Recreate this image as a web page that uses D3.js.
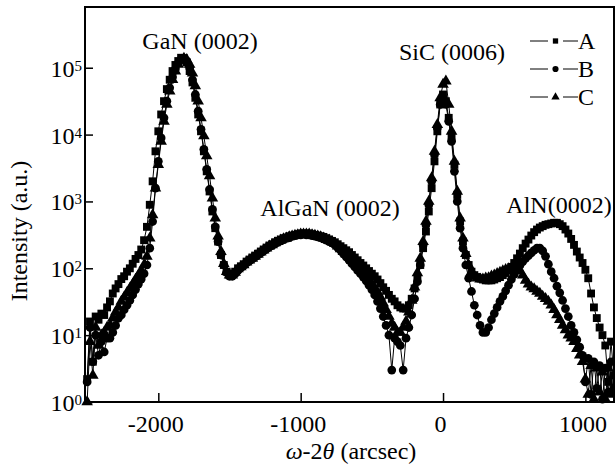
<!DOCTYPE html>
<html>
<head>
<meta charset="utf-8">
<script src="https://cdn.jsdelivr.net/npm/d3@7"></script>
</head>
<body style="margin:0">
<script>
// scan positions, omega-2theta (arcsec)
var angle = [
  -2500, -2480, -2460, -2440, -2420, -2400, -2380, -2360, -2340, -2320,
  -2300, -2280, -2260, -2240, -2220, -2200, -2180, -2160, -2140, -2120,
  -2100, -2080, -2060, -2040, -2020, -2000, -1980, -1960, -1940, -1920,
  -1900, -1880, -1860, -1840, -1820, -1800, -1780, -1760, -1740, -1720,
  -1700, -1680, -1660, -1640, -1620, -1600, -1580, -1560, -1540, -1520,
  -1500, -1480, -1460, -1440, -1420, -1400, -1380, -1360, -1340, -1320,
  -1300, -1280, -1260, -1240, -1220, -1200, -1180, -1160, -1140, -1120,
  -1100, -1080, -1060, -1040, -1020, -1000, -980, -960, -940, -920,
  -900, -880, -860, -840, -820, -800, -780, -760, -740, -720,
  -700, -680, -660, -640, -620, -600, -580, -560, -540, -520,
  -500, -480, -460, -440, -420, -400, -380, -360, -340, -320,
  -300, -280, -260, -240, -220, -200, -180, -160, -140, -120,
  -100, -80, -60, -40, -20, 0, 20, 40, 60, 80,
  100, 120, 140, 160, 180, 200, 220, 240, 260, 280,
  300, 320, 340, 360, 380, 400, 420, 440, 460, 480,
  500, 520, 540, 560, 580, 600, 620, 640, 660, 680,
  700, 720, 740, 760, 780, 800, 820, 840, 860, 880,
  900, 920, 940, 960, 980, 1000, 1020, 1040, 1060, 1080,
  1100, 1120, 1140, 1160, 1180, 1200
];

// intensity (a.u.) for the three samples
var seriesA = [
  2.2, 16, 4, 19, 17, 21, 20, 26, 32, 42,
  50, 58, 69, 76, 89, 100, 117, 138, 158, 191,
  263, 417, 891, 2000, 5620, 11200, 20000, 31600, 47900, 66100,
  89100, 110000, 126000, 141000, 138000, 120000, 89100, 60300, 35500, 20000,
  11200, 5620, 2820, 1410, 708, 398, 251, 158, 112, 89,
  79, 83, 89, 100, 107, 115, 126, 135, 145, 155,
  166, 178, 191, 204, 219, 229, 245, 257, 269, 282,
  288, 302, 309, 316, 324, 331, 331, 331, 331, 324,
  316, 309, 302, 295, 282, 269, 257, 245, 229, 214,
  200, 186, 174, 158, 145, 132, 120, 110, 100, 91,
  83, 76, 68, 60, 52, 46, 40, 35, 32, 28,
  26, 25, 25, 28, 35, 50, 71, 112, 200, 355,
  708, 1580, 3980, 11200, 28200, 39800, 31600, 17800, 8910, 3550,
  1260, 501, 251, 158, 112, 89, 79, 74, 71, 68,
  66, 66, 66, 68, 71, 74, 79, 85, 93, 105,
  120, 141, 166, 200, 234, 269, 309, 347, 380, 407,
  427, 447, 457, 468, 479, 479, 457, 427, 380, 331,
  275, 224, 178, 145, 120, 95, 71, 42, 26, 18,
  13, 10, 7, 2, 8, 2.5
];

var seriesB = [
  2, 13, 4, 10, 5, 8, 5.6, 9, 9, 11,
  14, 18, 20, 24, 28, 33, 40, 48, 58, 69,
  83, 112, 200, 501, 1580, 3980, 8910, 17800, 31600, 50100,
  72400, 95500, 117000, 132000, 138000, 126000, 100000, 66100, 39800, 22400,
  12000, 6030, 3020, 1510, 759, 417, 251, 158, 112, 87,
  76, 76, 83, 93, 102, 110, 120, 129, 138, 148,
  158, 170, 182, 195, 209, 219, 234, 245, 257, 269,
  282, 288, 302, 309, 316, 316, 324, 316, 316, 309,
  302, 295, 288, 275, 263, 251, 240, 224, 204, 186,
  166, 148, 132, 117, 105, 93, 83, 74, 65, 56,
  48, 40, 32, 25, 19, 14, 10, 3, 9, 8,
  7, 3, 9, 13, 20, 35, 63, 112, 224, 447,
  891, 2000, 5010, 12600, 28200, 35500, 28200, 15800, 7940, 2820,
  1000, 398, 200, 112, 71, 45, 28, 20, 14, 11,
  11, 13, 17, 21, 26, 32, 38, 46, 56, 68,
  81, 95, 110, 126, 141, 155, 170, 186, 200, 200,
  182, 151, 115, 89, 71, 54, 43, 33, 25, 19,
  14, 11, 8.5, 6.6, 5, 2, 4.5, 1.3, 4, 1.6,
  3.5, 1.1, 3.2, 1.4, 4, 1.6
];

var seriesC = [
  1, 8, 2.5, 13, 7, 10, 11, 13, 14, 18,
  22, 26, 32, 37, 43, 50, 58, 68, 79, 93,
  112, 151, 282, 631, 1580, 3550, 7940, 15800, 28200, 44700,
  66100, 89100, 112000, 129000, 138000, 132000, 112000, 83200, 53700, 31600,
  17800, 9550, 4790, 2400, 1120, 562, 302, 178, 117, 89,
  79, 79, 87, 98, 105, 112, 123, 132, 141, 151,
  162, 174, 186, 200, 214, 224, 240, 251, 263, 275,
  282, 295, 302, 309, 316, 324, 324, 324, 324, 316,
  309, 302, 295, 282, 269, 263, 251, 234, 214, 195,
  178, 162, 148, 132, 120, 107, 95, 85, 76, 68,
  59, 51, 44, 37, 30, 24, 19, 15, 13, 11,
  11, 13, 16, 22, 33, 52, 85, 141, 251, 501,
  1000, 2240, 5620, 14100, 35500, 56200, 63100, 28200, 11200, 3980,
  1410, 562, 282, 166, 112, 89, 76, 71, 69, 69,
  71, 72, 76, 79, 83, 87, 91, 95, 98, 100,
  100, 98, 91, 79, 66, 58, 52, 49, 45, 42,
  38, 35, 32, 28, 24, 20, 17, 14, 12, 10,
  9, 8, 6.3, 5, 4, 2.2, 1.3, 3.5, 1.1, 3.2,
  1.4, 2.8, 1.1, 3.2, 1.3, 2.5
];

var seriesNames = ["A", "B", "C"];
var xTicks = [-2000, -1000, 0, 1000];
var yExponents = [0, 1, 2, 3, 4, 5];

var chartWidth = 615;
var chartHeight = 470;
var plot = { left: 85, right: 614, top: 7, bottom: 402 };

var svg = d3.select("body")
  .append("svg")
  .attr("width", chartWidth)
  .attr("height", chartHeight);

var xScale = d3.scaleLinear().domain([-2515, 1201]).range([plot.left, plot.right]);
var yScale = d3.scaleLog().domain([1, 8.1e5]).range([plot.bottom, plot.top]);

var seriesList = [
  { label: seriesNames[0], values: seriesA, symbol: d3.symbolSquare, size: 62, legendSize: 28 },
  { label: seriesNames[1], values: seriesB, symbol: d3.symbolCircle, size: 60, legendSize: 30 },
  { label: seriesNames[2], values: seriesC, symbol: d3.symbolTriangle, size: 58, legendSize: 30 }
];

var curve = d3.line()
  .x(function(d, i) { return xScale(angle[i]); })
  .y(function(d) { return yScale(d); });

var dataLayer = svg.append("g");

seriesList.forEach(function(s) {
  var g = dataLayer.append("g");
  g.append("path")
    .attr("d", curve(s.values))
    .attr("fill", "none")
    .attr("stroke", "#000")
    .attr("stroke-width", 1);
  g.selectAll("path.mark")
    .data(s.values)
    .enter()
    .append("path")
    .attr("class", "mark")
    .attr("d", d3.symbol().type(s.symbol).size(s.size))
    .attr("transform", function(d, i) {
      return "translate(" + xScale(angle[i]) + "," + yScale(d) + ")";
    })
    .attr("fill", "#000");
});

// axes: ticks point inward
var xAxis = svg.append("g")
  .attr("transform", "translate(0," + plot.bottom + ")")
  .call(d3.axisBottom(xScale).tickValues(xTicks).tickSize(-9).tickFormat(function(d) { return String(d); }));
xAxis.select(".domain").remove();
xAxis.selectAll("line").attr("stroke", "#000").attr("stroke-width", 1.5);
xAxis.selectAll("text")
  .style("font-family", "Liberation Serif")
  .style("font-size", "24px")
  .attr("fill", "#000")
  .attr("y", 30)
  .attr("dy", 0)
  .attr("dx", -3);

var yAxis = svg.append("g")
  .attr("transform", "translate(" + plot.left + ",0)")
  .call(d3.axisLeft(yScale).tickValues(yExponents.map(function(e) { return Math.pow(10, e); })).tickSize(-8).tickFormat(""));
yAxis.select(".domain").remove();
yAxis.selectAll("line").attr("stroke", "#000").attr("stroke-width", 1.5);

yExponents.forEach(function(e) {
  var t = svg.append("text")
    .attr("x", 82)
    .attr("y", yScale(Math.pow(10, e)) + 9)
    .attr("text-anchor", "end")
    .style("font-family", "Liberation Serif")
    .style("font-size", "24px");
  t.append("tspan").text("10");
  t.append("tspan")
    .attr("dy", -6)
    .style("font-size", "15px")
    .text(String(e));
});

svg.append("rect")
  .attr("x", plot.left)
  .attr("y", plot.top)
  .attr("width", plot.right - plot.left)
  .attr("height", plot.bottom - plot.top)
  .attr("fill", "none")
  .attr("stroke", "#000")
  .attr("stroke-width", 2);

// peak annotations
var notes = [
  { text: "GaN (0002)", px: 200, py: 49 },
  { text: "SiC (0006)", px: 452, py: 60 },
  { text: "AlGaN (0002)", px: 330, py: 216 },
  { text: "AlN(0002)", px: 559, py: 213 }
];
notes.forEach(function(d) {
  svg.append("text")
    .attr("x", d.px)
    .attr("y", d.py)
    .attr("text-anchor", "middle")
    .style("font-family", "Liberation Serif")
    .style("font-size", "24px")
    .text(d.text);
});

// legend
seriesList.forEach(function(s, i) {
  var cy = 41 + i * 28;
  svg.append("line")
    .attr("x1", 530).attr("x2", 548).attr("y1", cy).attr("y2", cy)
    .attr("stroke", "#000").attr("stroke-width", 1);
  svg.append("line")
    .attr("x1", 563).attr("x2", 578).attr("y1", cy).attr("y2", cy)
    .attr("stroke", "#000").attr("stroke-width", 1);
  svg.append("path")
    .attr("d", d3.symbol().type(s.symbol).size(s.legendSize))
    .attr("transform", "translate(555.5," + cy + ")")
    .attr("fill", "#000");
  svg.append("text")
    .attr("x", 578)
    .attr("y", cy + 8)
    .style("font-family", "Liberation Serif")
    .style("font-size", "24px")
    .text(s.label);
});

// axis titles
var xTitle = svg.append("text")
  .attr("x", 351)
  .attr("y", 459)
  .attr("text-anchor", "middle")
  .style("font-family", "Liberation Serif")
  .style("font-size", "24px");
xTitle.append("tspan").style("font-style", "italic").text("\u03c9");
xTitle.append("tspan").text("-2");
xTitle.append("tspan").style("font-style", "italic").text("\u03b8");
xTitle.append("tspan").text(" (arcsec)");

svg.append("text")
  .attr("transform", "translate(27,231) rotate(-90)")
  .attr("text-anchor", "middle")
  .style("font-family", "Liberation Serif")
  .style("font-size", "24px")
  .text("Intensity (a.u.)");
</script>
</body>
</html>
